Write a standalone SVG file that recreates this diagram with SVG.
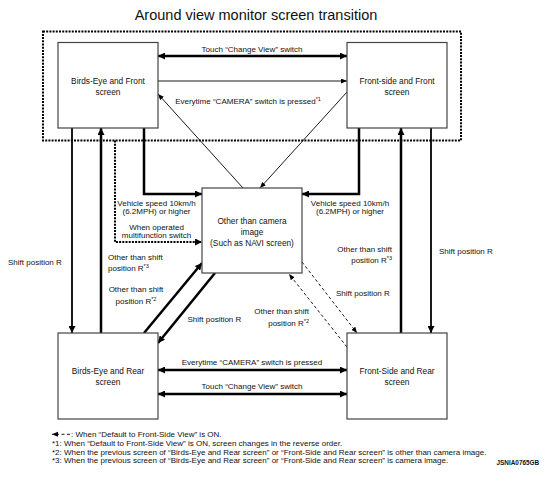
<svg xmlns="http://www.w3.org/2000/svg" width="549" height="484" viewBox="0 0 549 484">
<style>
text{font-family:"Liberation Sans",Arial,sans-serif;fill:#111}
.t{font-size:14.5px}
.b{font-size:8.3px;text-anchor:middle}
.l{font-size:8px}
.m{text-anchor:middle}
.e{text-anchor:end}
.f{font-size:8px}
.sup{font-size:5.5px}
.id{font-size:6.4px;font-weight:bold}
.box{fill:#fff;stroke:#444;stroke-width:1.2}
.thick{stroke:#000;stroke-width:2.5;fill:none}
.med{stroke:#000;stroke-width:1.8;fill:none}
.thin{stroke:#000;stroke-width:0.9;fill:none}
.dash{stroke:#000;stroke-width:0.9;fill:none;stroke-dasharray:3 2.5}
.dot{stroke:#000;stroke-width:2;fill:none;stroke-dasharray:2 1.2}
</style>
<defs>
<marker id="ak" markerUnits="userSpaceOnUse" markerWidth="8" markerHeight="7" refX="7" refY="3.5" orient="auto-start-reverse"><path d="M0,0 L7,3.5 L0,7 z" fill="#000"/></marker>
<marker id="an" markerUnits="userSpaceOnUse" markerWidth="7" markerHeight="6" refX="6" refY="2.5" orient="auto-start-reverse"><path d="M0,0 L6,2.5 L0,5 z" fill="#000"/></marker>
</defs>
<rect width="549" height="484" fill="#fff"/>
<text class="t m" x="256" y="20">Around view monitor screen transition</text>

<g id="front-group">
<rect class="dot" x="43" y="31.5" width="418" height="109"/>
</g>

<g id="connectors">
<line class="thick" x1="158" y1="56" x2="347" y2="56" marker-start="url(#ak)" marker-end="url(#ak)"/>
<line class="thin" x1="158" y1="81" x2="347" y2="81" marker-end="url(#an)"/>
<line class="thin" x1="243" y1="188" x2="158" y2="94" marker-end="url(#an)"/>
<line class="thin" x1="347" y1="92" x2="260" y2="188" marker-end="url(#an)"/>
<line class="med" x1="72" y1="128" x2="72" y2="333" marker-end="url(#ak)"/>
<line class="thick" x1="101" y1="333" x2="101" y2="128" marker-end="url(#ak)"/>
<path class="thick" d="M144,128 V194 H202" marker-end="url(#ak)"/>
<path class="dot" d="M115,140.5 V242 H202" marker-end="url(#ak)"/>
<path class="thick" d="M359,128 V194 H302" marker-end="url(#ak)"/>
<line class="thick" x1="401" y1="333" x2="401" y2="128" marker-end="url(#ak)"/>
<line class="med" x1="431" y1="128" x2="431" y2="333" marker-end="url(#ak)"/>
<line class="thick" x1="144" y1="333" x2="202" y2="263" marker-end="url(#ak)"/>
<line class="thick" x1="215" y1="273" x2="158" y2="343" marker-end="url(#ak)"/>
<line class="dash" x1="302" y1="262" x2="357" y2="333" marker-end="url(#an)"/>
<line class="dash" x1="347" y1="347" x2="289" y2="274" marker-end="url(#an)"/>
<line class="thick" x1="158" y1="370" x2="347" y2="370" marker-start="url(#ak)" marker-end="url(#ak)"/>
<line class="thick" x1="158" y1="394" x2="347" y2="394" marker-start="url(#ak)" marker-end="url(#ak)"/>

<text class="l m" x="252" y="52">Touch “Change View” switch</text>
<text class="l m" x="248" y="104">Everytime “CAMERA” switch is pressed<tspan class="sup" dy="-3">*1</tspan></text>
<text class="l m" x="156.5" y="205.5">Vehicle speed 10km/h</text>
<text class="l m" x="156.5" y="213.8">(6.2MPH) or higher</text>
<text class="l m" x="156.5" y="229.5">When operated</text>
<text class="l m" x="156.5" y="237.8">multifunction switch</text>
<text class="l m" x="350" y="205.5">Vehicle speed 10km/h</text>
<text class="l m" x="350" y="213.8">(6.2MPH) or higher</text>
<text class="l" x="8" y="265">Shift position R</text>
<text class="l" x="108" y="260">Other than shift</text>
<text class="l" x="108" y="270.5">position R<tspan class="sup" dy="-3">*3</tspan></text>
<text class="l m" x="136" y="292">Other than shift</text>
<text class="l m" x="136" y="303.5">position R<tspan class="sup" dy="-3">*2</tspan></text>
<text class="l" x="187.5" y="322">Shift position R</text>
<text class="l e" x="309" y="314">Other than shift</text>
<text class="l e" x="309" y="325.5">position R<tspan class="sup" dy="-3">*2</tspan></text>
<text class="l e" x="392" y="252">Other than shift</text>
<text class="l e" x="392" y="263">position R<tspan class="sup" dy="-3">*3</tspan></text>
<text class="l" x="336" y="296">Shift position R</text>
<text class="l" x="439" y="254">Shift position R</text>
<text class="l m" x="252" y="364.5">Everytime “CAMERA” switch is pressed</text>
<text class="l m" x="252" y="388.5">Touch “Change View” switch</text>
</g>

<g id="n-birds-eye-front">
<rect class="box" x="58" y="42.5" width="100" height="85.5"/>
<text class="b" x="108" y="84">Birds-Eye and Front</text>
<text class="b" x="108" y="95">screen</text>
</g>
<g id="n-front-side-front">
<rect class="box" x="347" y="42.5" width="100" height="85.5"/>
<text class="b" x="397" y="84">Front-side and Front</text>
<text class="b" x="397" y="95">screen</text>
</g>
<g id="n-other">
<rect class="box" x="202" y="188" width="100" height="85"/>
<text class="b" x="252" y="224">Other than camera</text>
<text class="b" x="252" y="235">image</text>
<text class="b" x="252" y="246">(Such as NAVI screen)</text>
</g>
<g id="n-birds-eye-rear">
<rect class="box" x="58" y="333" width="100" height="86"/>
<text class="b" x="108" y="374">Birds-Eye and Rear</text>
<text class="b" x="108" y="385">screen</text>
</g>
<g id="n-front-side-rear">
<rect class="box" x="347" y="333" width="100" height="86"/>
<text class="b" x="397" y="374">Front-Side and Rear</text>
<text class="b" x="397" y="385">screen</text>
</g>

<g id="notes">
<line class="dash" x1="70" y1="434.3" x2="52" y2="434.3" stroke-width="1" marker-end="url(#an)"/>
<text class="f" x="71" y="437">: When “Default to Front-Side View” is ON.</text>
<text class="f" x="52" y="446">*1: When “Default to Front-Side View” is ON, screen changes in the reverse order.</text>
<text class="f" x="52" y="454.7">*2: When the previous screen of “Birds-Eye and Rear screen” or “Front-Side and Rear screen” is other than camera image.</text>
<text class="f" x="52" y="463.2">*3: When the previous screen of “Birds-Eye and Rear screen” or “Front-Side and Rear screen” is camera image.</text>
<text class="id" x="496.5" y="464.5">JSNIA0765GB</text>
</g>
</svg>
